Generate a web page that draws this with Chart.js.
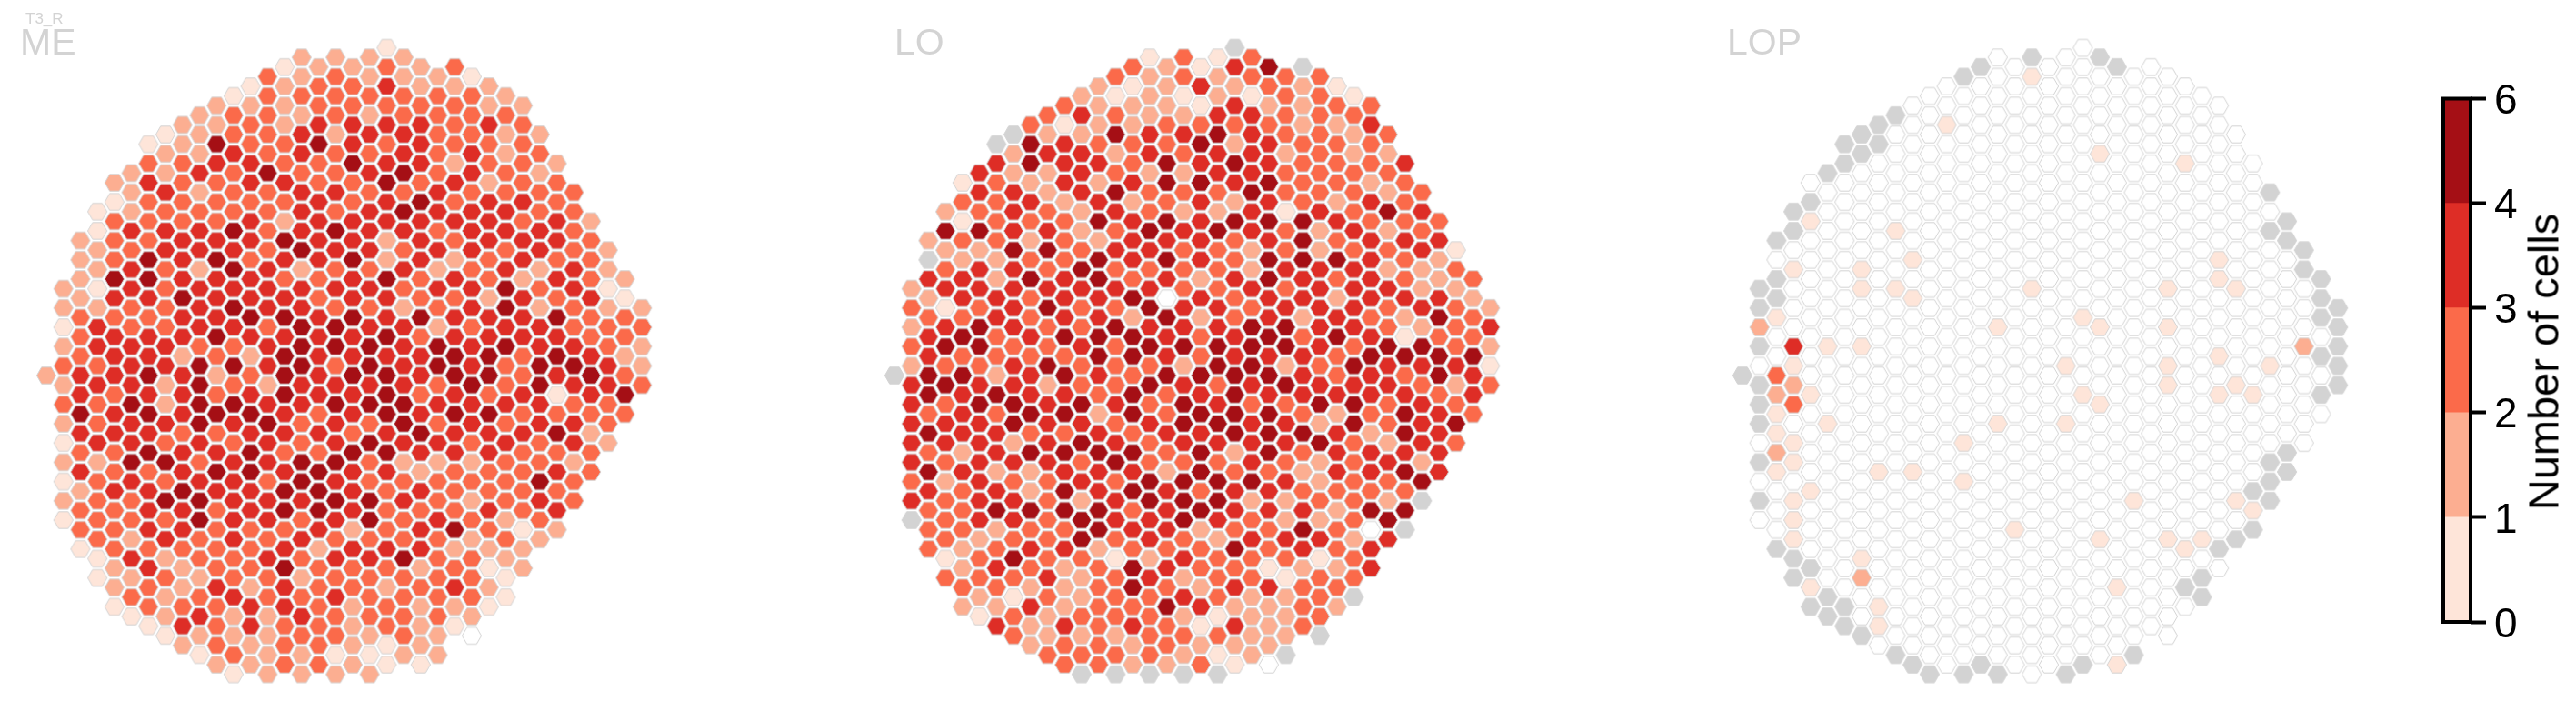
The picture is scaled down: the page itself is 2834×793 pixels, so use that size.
<!DOCTYPE html>
<html>
<head>
<meta charset="utf-8">
<title>T3_R</title>
<script src="https://cdn.jsdelivr.net/npm/chart.js@4"></script>
<style>
  body { margin: 0; background: #fff; overflow: hidden; font-family: "Liberation Sans", sans-serif; }
  canvas { position: absolute; top: 0; }
  .label { position: absolute; color: #d3d3d3; line-height: 1; white-space: nowrap; }
</style>
</head>
<body>
<canvas id="panel0" width="933" height="793" style="left:0"></canvas>
<canvas id="panel1" width="933" height="793" style="left:933px"></canvas>
<canvas id="panel2" width="933" height="793" style="left:1866px"></canvas>
<canvas id="colorbar" width="174" height="640" style="left:2660px;top:80px"></canvas>
<div class="label" style="left:28px;top:12px;font-size:17px">T3_R</div>
<div class="label" style="left:22px;top:26px;font-size:41px">ME</div>
<div class="label" style="left:984px;top:26px;font-size:41px">LO</div>
<div class="label" style="left:1900px;top:26px;font-size:41px">LOP</div>
<div id="cbTitle" style="position:absolute;left:2798px;top:398px;font-size:47px;line-height:1;white-space:nowrap;transform:translate(-50%,-50%) rotate(-90deg)">Number of cells</div>

<script>
// hex lattice: one top row per column, rows are doubled so columns interleave
var columnTop = [0,-9,-14,-17,-20,-21,-24,-25,-26,-27,-28,-29,-30,-31,-32,-33,-32,-33,-32,-33,-34,-33,-32,-31,-32,-31,-30,-29,-28,-25,-22,-19,-16,-13,-10,-7];
var columnSize = [1,13,17,20,23,24,26,27,28,29,30,31,31,32,32,33,32,33,32,33,33,32,32,31,30,30,28,27,25,22,20,17,14,11,8,5];

// cell codes: 0 = empty, 1..5 = colour bin, x = no column data
var meColumns = [
  "2",
  "2212323212121",
  "22223334454342331",
  "11221244343342333311",
  "21333543444344334333221",
  "222434433444544543324231",
  "13433355434454545344434331",
  "122434433334422435353423221",
  "2233334445442444344544322342",
  "22242344244435555434553323421",
  "225433345444532353454333343332",
  "1334333545454353543444443342231",
  "1233443443445423454554433324422",
  "33333533334443442454434434332222",
  "12223343254345455544345534544333",
  "223244344452445554433554343234322",
  "23345334444334444434355542333333",
  "233323343543435534544545434343312",
  "23344533445445445443544424332222",
  "223243434443434554535335534333212",
  "134343454422544545554543334323311",
  "22334453543432444455423433533332",
  "22344435444335344345424344232221",
  "2333334434243255343423343333322",
  "323332434324344554544333523421",
  "133344344434434454432323233320",
  "2243324443324455354433432121",
  "232233443455453343433323211",
  "2333343442444334343333122",
  "2323344232445544335432",
  "23344343545413534342",
  "33334433454344233",
  "23334334543233",
  "22123344332",
  "21332353",
  "23223"
];
var loColumns = [
  "x",
  "232324444434x",
  "2x423445535354333",
  "25234145353443233313",
  "13132443535444243332232",
  "443524435534544444423321",
  "x4333322443325344245234324",
  "x22444544443445524344353133",
  "3552432353343445352253432422",
  "32422345345335244443333343223",
  "314442333444535453545534222433",
  "242444223543343354534255322323x",
  "2223424525544554324544552333333",
  "3135235434343533343453443133323x",
  "31223342444352553553545343553422",
  "12224423354345453534335544243333x",
  "22233553545405445334324443435332",
  "33124323243334452455435553424232x",
  "14135454444242335454553523324123",
  "12245443253334455345435542333131x",
  "x42432542533433445555234435342421",
  "33144445442243555434445234332222",
  "53234454545544545455534433142220",
  "333323313343455253443422431222x",
  "x22233335554423444353234542333",
  "33333334224444434525223241333x",
  "1323332435324533424443233232",
  "13223334344443545533333233x",
  "3433243444434544324435044",
  "3232523243354433243254",
  "4333433421534554535x",
  "3434224254344425x",
  "34224535534444",
  "13233342353",
  "32335443",
  "24213"
];

// LOP is almost all empty, so only the marked cells are listed (row:code)
var lopMarked = [
  "0:x",
  "-9:x -7:x -5:2 -3:x 1:x 3:x 5:x 9:x 13:x",
  "-14:x -10:x -8:x -6:1 0:3 2:2 4:1 6:1 8:2 10:1 18:x",
  "-17:x -15:x -11:1 -3:4 -1:1 1:2 3:3 7:1 9:1 13:1 15:1 17:1 19:x 21:x",
  "-18:x -16:1 2:1 12:1 20:x 22:1 24:x",
  "-21:x -3:1 5:1 23:x 25:x",
  "-24:x -22:x 24:x 26:x",
  "-25:x -23:x -11:1 -9:1 -3:1 19:1 21:2 27:x",
  "-26:x -24:x 10:1 24:1 26:1",
  "-27:x -15:1 -9:1 29:x",
  "-12:1 -8:1 10:1 30:x",
  "31:x",
  "-26:1",
  "-31:x 7:1 11:1 31:x",
  "-32:x 30:x",
  "-5:1 5:1 31:x",
  "16:1",
  "-33:x -31:1 -9:1",
  "",
  "-1:1 5:1 31:x",
  "-6:1 2:1 30:x",
  "-33:x -23:1 -5:1 3:1 17:1",
  "-32:x 22:1 30:1",
  "13:1 29:x",
  "",
  "-9:1 -5:1 -1:1 1:1 17:1",
  "-22:1 18:1 22:x",
  "17:1 21:x 23:x",
  "-12:1 -10:1 -2:1 2:1 18:x",
  "-9:1 1:1 13:1 17:x",
  "2:1 12:x 14:1 16:x",
  "-19:x -15:x -1:1 9:x 11:x 13:x",
  "-16:x -14:x 8:x 10:x",
  "-13:x -11:x -3:2",
  "-10:x -8:x -6:x -2:x 2:x",
  "-7:x -5:x -3:x -1:x 1:x"
];

var colorbarTicks = [0, 1, 2, 3, 4, 6];
var binColors = ['#fee5d9', '#fcae91', '#fb6a4a', '#de2d26', '#a50f15'];

// sprite for every cell code, used as the point style
function makeHex(fill) {
  var c = document.createElement('canvas');
  c.width = 28;
  c.height = 28;
  var g = c.getContext('2d');
  var r = 10.6;
  g.beginPath();
  for (var i = 0; i < 6; i++) {
    var a = i * Math.PI / 3;
    g.lineTo(14 + r * Math.cos(a), 14 + r * Math.sin(a));
  }
  g.closePath();
  g.fillStyle = fill;
  g.fill();
  g.strokeStyle = '#d3d3d3';
  g.lineWidth = 1;
  g.stroke();
  return c;
}

var hexSprites = { '0': makeHex('#ffffff'), x: makeHex('#d3d3d3') };
binColors.forEach(function (col, i) {
  hexSprites[String(i + 1)] = makeHex(col);
});

function denseToPoints(columns) {
  var pts = [];
  columns.forEach(function (str, c) {
    for (var i = 0; i < str.length; i++) {
      pts.push({ x: c, y: columnTop[c] + i * 2, code: str[i] });
    }
  });
  return pts;
}

function sparseToPoints(marked) {
  var pts = [];
  marked.forEach(function (str, c) {
    var found = {};
    str.split(' ').forEach(function (item) {
      if (item) {
        var p = item.split(':');
        found[p[0]] = p[1];
      }
    });
    for (var i = 0; i < columnSize[c]; i++) {
      var row = columnTop[c] + i * 2;
      pts.push({ x: c, y: row, code: found[row] || '0' });
    }
  });
  return pts;
}

var panels = [denseToPoints(meColumns), denseToPoints(loColumns), sparseToPoints(lopMarked)];

panels.forEach(function (points, n) {
  new Chart(document.getElementById('panel' + n), {
    type: 'scatter',
    data: {
      datasets: [{
        data: points,
        pointRadius: 10,
        pointStyle: function (ctx) { return hexSprites[ctx.raw.code]; }
      }]
    },
    options: {
      responsive: false,
      animation: false,
      events: [],
      layout: { padding: 0, autoPadding: false },
      plugins: { legend: { display: false }, tooltip: { enabled: false } },
      scales: {
        x: { display: false, min: -2.724, max: 47.116 },
        y: { display: false, reverse: true, min: -38.96, max: 35.85 }
      }
    }
  });
});

// black frame round the colorbar
var framePlugin = {
  id: 'frame',
  afterDatasetsDraw: function (chart) {
    var a = chart.chartArea, g = chart.ctx;
    g.save();
    g.strokeStyle = '#000';
    g.lineWidth = 4;
    g.strokeRect(a.left, a.top, a.right - a.left, a.bottom - a.top);
    g.restore();
  }
};

new Chart(document.getElementById('colorbar'), {
  type: 'bar',
  data: {
    labels: ['bar'],
    datasets: binColors.map(function (col) {
      return { data: [1], backgroundColor: col, barPercentage: 1, categoryPercentage: 1 };
    })
  },
  options: {
    responsive: false,
    animation: false,
    events: [],
    layout: { padding: { left: 28, top: 28.5, bottom: 36, right: 0 }, autoPadding: false },
    plugins: { legend: { display: false }, tooltip: { enabled: false } },
    scales: {
      x: { display: false, stacked: true },
      y: {
        position: 'right',
        stacked: true,
        min: 0,
        max: binColors.length,
        // keep the bar size independent of the tick label height
        afterFit: function (s) { s.width = 116; s.paddingTop = 0; s.paddingBottom = 0; },
        border: { display: false },
        grid: { drawOnChartArea: false, tickLength: 17, tickWidth: 4, tickColor: '#000' },
        ticks: {
          stepSize: 1,
          padding: 9,
          labelOffset: 4,
          color: '#000',
          font: { family: '"Liberation Sans"', size: 46 },
          callback: function (v) { return colorbarTicks[v]; }
        }
      }
    }
  },
  plugins: [framePlugin]
});
</script>
</body>
</html>
